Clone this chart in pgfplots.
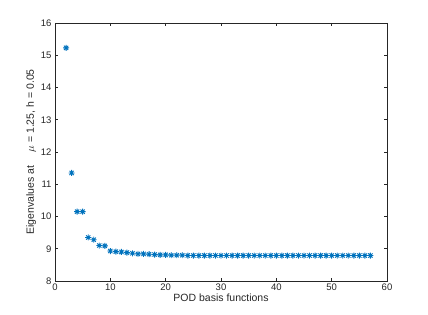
\documentclass[border=0pt]{standalone}
\usepackage{fontspec}
\setmainfont{Liberation Sans}
\usepackage{pgfplots}
\pgfplotsset{compat=1.18}
\definecolor{mblue}{RGB}{0,114,189}
\definecolor{mgray}{RGB}{38,38,38}
\pgfdeclareplotmark{mstar}{%
  \pgfpathmoveto{\pgfqpoint{-\pgfplotmarksize}{0pt}}\pgfpathlineto{\pgfqpoint{\pgfplotmarksize}{0pt}}%
  \pgfpathmoveto{\pgfqpoint{0pt}{-\pgfplotmarksize}}\pgfpathlineto{\pgfqpoint{0pt}{\pgfplotmarksize}}%
  \pgfpathmoveto{\pgfqpoint{-0.707\pgfplotmarksize}{-0.707\pgfplotmarksize}}\pgfpathlineto{\pgfqpoint{0.707\pgfplotmarksize}{0.707\pgfplotmarksize}}%
  \pgfpathmoveto{\pgfqpoint{-0.707\pgfplotmarksize}{0.707\pgfplotmarksize}}\pgfpathlineto{\pgfqpoint{0.707\pgfplotmarksize}{-0.707\pgfplotmarksize}}%
  \pgfusepathqstroke}
\begin{document}
\begin{tikzpicture}[x=1pt,y=1pt]
\useasboundingbox (0,0) rectangle (428,315);
\begin{axis}[
  at={(55pt,34pt)}, anchor=south west,
  width=332pt, height=258pt, scale only axis,
  xmin=0, xmax=60, ymin=8, ymax=16,
  xtick={0,10,...,60}, ytick={8,9,...,16},
  tick align=inside, tick pos=both,
  major tick length=3.3pt,
  axis line style={mgray, line width=0.5pt},
  tick style={mgray, line width=0.5pt},
  ticklabel style={font=\fontsize{9.5}{11}\selectfont, text=mgray},
  xticklabel style={yshift=1pt},
  /pgf/number format/assume math mode=true,
  label style={font=\fontsize{10.5}{12}\selectfont, text=mgray},
  xlabel={POD basis functions},
  ylabel={Eigenvalues at \quad $\mu$ = 1.25, h = 0.05},
  xlabel style={yshift=3pt},
  ylabel style={yshift=-2pt},
]
\addplot[only marks, mark=mstar, mark size=3pt, color=mblue, line width=0.9pt] coordinates {
(2,15.23) (3,11.35) (4,10.15) (5,10.15) (6,9.35) (7,9.28) (8,9.10) (9,9.09)
(10,8.93) (11,8.91) (12,8.90) (13,8.88) (14,8.86) (15,8.84) (16,8.84) (17,8.83)
(18,8.82) (19,8.81) (20,8.81) (21,8.80) (22,8.80) (23,8.80) (24,8.79) (25,8.79)
(26,8.79) (27,8.79) (28,8.79) (29,8.79) (30,8.79) (31,8.79) (32,8.79) (33,8.79)
(34,8.79) (35,8.79) (36,8.79) (37,8.79) (38,8.79) (39,8.79) (40,8.79) (41,8.79)
(42,8.79) (43,8.79) (44,8.79) (45,8.79) (46,8.79) (47,8.79) (48,8.79) (49,8.79)
(50,8.79) (51,8.79) (52,8.79) (53,8.79) (54,8.79) (55,8.79) (56,8.79) (57,8.79)
};
\end{axis}
\end{tikzpicture}
\end{document}
